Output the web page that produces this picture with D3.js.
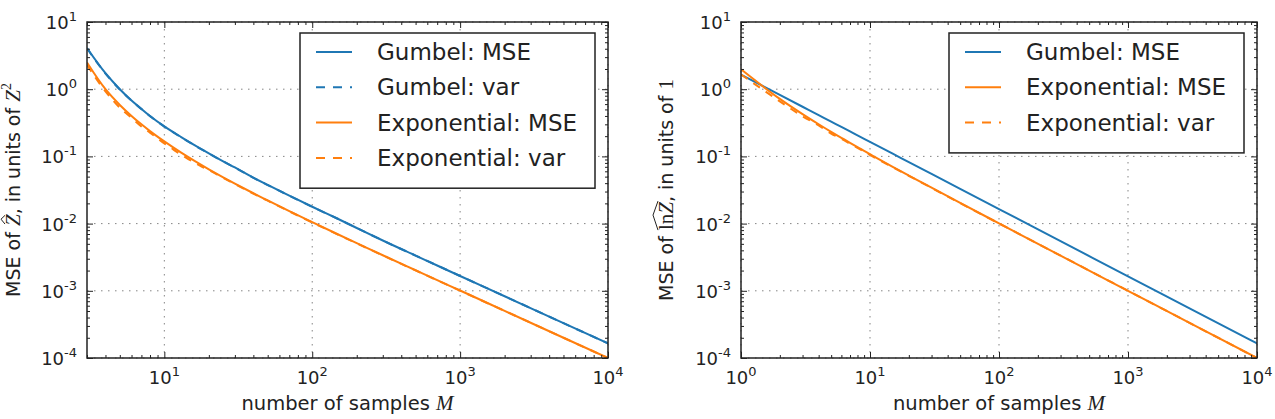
<!DOCTYPE html>
<html>
<head>
<meta charset="utf-8">
<script src="https://cdn.jsdelivr.net/npm/d3@7"></script>
<style>
  body { margin: 0; background: #fff; }
  text { font-family: "DejaVu Sans", sans-serif; fill: #222; }
</style>
</head>
<body>
<svg id="fig" width="1275" height="419"></svg>
<script>
const blue = "#1f77b4", orange = "#ff7f0e";

// left panel: MSE of Z-hat
const leftM = [3, 4, 5, 6, 7, 8, 10, 13, 16, 20, 25, 30, 40, 50, 70, 100, 150, 200, 300, 500, 700, 1000, 2000, 5000, 10000];
const leftGumbelMSE = [4.1, 1.73, 1.0, 0.68, 0.51, 0.40, 0.28, 0.194, 0.147, 0.111, 0.0845, 0.0684, 0.0482, 0.0376, 0.0261, 0.0178, 0.0117, 0.0086, 0.0056, 0.00334, 0.00238, 0.00166, 0.00083, 0.00033, 0.000165];
const leftGumbelVar = [4.05, 1.71, 0.99, 0.675, 0.505, 0.397, 0.278, 0.193, 0.146, 0.1105, 0.0842, 0.0682, 0.0481, 0.0375, 0.0260, 0.0177, 0.0117, 0.0086, 0.0056, 0.00334, 0.00238, 0.00166, 0.00083, 0.00033, 0.000165];
const leftExpMSE = [2.5, 1.0, 0.583, 0.40, 0.300, 0.238, 0.167, 0.1136, 0.0857, 0.0643, 0.0489, 0.0394, 0.0283, 0.0221, 0.0153, 0.0105, 0.00689, 0.00513, 0.00338, 0.00202, 0.00144, 0.00101, 0.000503, 0.0002, 0.0001];
const leftVarM = [3, 4, 5, 6, 7, 8, 9, 10, 11, 12, 13, 14, 16, 18, 20, 25, 30, 40, 50, 70, 100, 200, 500, 1000, 2000, 5000, 10000];
const leftExpVar = [2.3, 0.93, 0.53, 0.375, 0.278, 0.226, 0.186, 0.156, 0.136, 0.119, 0.106, 0.096, 0.081, 0.070, 0.0625, 0.0478, 0.0387, 0.0279, 0.0219, 0.0152, 0.0104, 0.00508, 0.00201, 0.001005, 0.000502, 0.0002, 0.0001];

// right panel: MSE of ln Z
const rightM = [1, 2, 3, 4, 5, 6, 7, 8, 10, 15, 20, 30, 50, 100, 300, 1000, 3000, 10000];
const rightGumbelMSE = [1.645, 0.822, 0.548, 0.411, 0.329, 0.274, 0.235, 0.206, 0.1645, 0.1097, 0.0822, 0.0548, 0.0329, 0.01645, 0.00548, 0.001645, 0.000548, 0.0001645];
const rightExpMSE = [1.98, 0.718, 0.426, 0.301, 0.232, 0.189, 0.159, 0.137, 0.1078, 0.0700, 0.0519, 0.0342, 0.0203, 0.01008, 0.00334, 0.0010005, 0.000333, 0.0001];
const rightExpVar = [1.66, 0.66, 0.395, 0.29, 0.219, 0.183, 0.155, 0.134, 0.105, 0.069, 0.0515, 0.0340, 0.0202, 0.01005, 0.00334, 0.001, 0.000333, 0.0001];

const yTicks = [1e-4, 1e-3, 1e-2, 1e-1, 1, 10];
const yExps = ["-4", "-3", "-2", "-1", "0", "1"];
const leftXTicks = [10, 100, 1000, 10000];
const leftXExps = ["1", "2", "3", "4"];
const rightXTicks = [1, 10, 100, 1000, 10000];
const rightXExps = ["0", "1", "2", "3", "4"];

const plotTop = 22, plotBottom = 358;
const h = plotBottom - plotTop;
const svg = d3.select("#fig");
svg.append("rect").attr("width", 1275).attr("height", 419).attr("fill", "#fff");

function minorValues(domain) {
  const out = [];
  const lo = Math.floor(Math.log10(domain[0])), hi = Math.ceil(Math.log10(domain[1]));
  for (let k = lo; k < hi; k++) {
    for (let m = 2; m <= 9; m++) {
      const v = m * Math.pow(10, k);
      if (v >= domain[0] - 1e-12 && v <= domain[1]) out.push(v);
    }
  }
  return out;
}

function pow10(sel, exp) {
  sel.text("10");
  sel.append("tspan").attr("dy", -8).attr("font-size", 13).text(exp);
}

function drawPanel(cfg) {
  const w = cfg.x1 - cfg.x0;
  const g = svg.append("g").attr("transform", `translate(${cfg.x0},${plotTop})`);
  const x = d3.scaleLog().domain(cfg.xDomain).range([0, w]);
  const y = d3.scaleLog().domain([1e-4, 10]).range([h, 0]);

  // dotted grid
  const grid = g.append("g").attr("stroke", "#777").attr("stroke-width", 0.9).attr("stroke-dasharray", "1.5,5.5");
  grid.selectAll(".gx").data(cfg.xTicks).join("line")
    .attr("x1", d => x(d)).attr("x2", d => x(d)).attr("y1", 0).attr("y2", h);
  grid.selectAll(".gy").data(yTicks).join("line")
    .attr("x1", 0).attr("x2", w).attr("y1", d => y(d)).attr("y2", d => y(d));

  // lines
  const clipId = "clip" + cfg.x0;
  g.append("clipPath").attr("id", clipId).append("rect").attr("width", w).attr("height", h);
  const line = d3.line().x(d => x(d[0])).y(d => y(d[1])).curve(d3.curveMonotoneX);
  const lg = g.append("g").attr("clip-path", `url(#${clipId})`);
  cfg.series.forEach(s => {
    const pts = s.m.map((m, i) => [m, s.v[i]]);
    lg.append("path")
      .attr("d", line(pts))
      .attr("fill", "none")
      .attr("stroke", s.color)
      .attr("stroke-width", 2)
      .attr("stroke-dasharray", s.dash ? "8,7" : null);
  });

  // ticks on all four sides, pointing inward
  const xMinor = minorValues(cfg.xDomain), yMinor = minorValues([1e-4, 10]);
  const axes = [
    [d3.axisBottom, `translate(0,${h})`, x, cfg.xTicks, xMinor],
    [d3.axisTop, "translate(0,0)", x, cfg.xTicks, xMinor],
    [d3.axisLeft, "translate(0,0)", y, yTicks, yMinor],
    [d3.axisRight, `translate(${w},0)`, y, yTicks, yMinor]
  ];
  axes.forEach(([ax, tr, sc, major, minor]) => {
    g.append("g").attr("transform", tr).attr("color", "#222")
      .call(ax(sc).tickValues(major).tickSize(-6).tickFormat(""))
      .call(a => a.select(".domain").remove());
    g.append("g").attr("transform", tr).attr("color", "#222")
      .call(ax(sc).tickValues(minor).tickSize(-3).tickFormat(""))
      .call(a => a.select(".domain").remove());
  });

  // frame
  g.append("rect").attr("width", w).attr("height", h)
    .attr("fill", "none").attr("stroke", "#222").attr("stroke-width", 1.5);

  // tick labels
  cfg.xTicks.forEach((t, i) => {
    g.append("text").attr("x", x(t)).attr("y", h + 26).attr("text-anchor", "middle")
      .attr("font-size", 18).call(pow10, cfg.xExps[i]);
  });
  yTicks.forEach((t, i) => {
    g.append("text").attr("x", -10).attr("y", y(t) + 7).attr("text-anchor", "end")
      .attr("font-size", 18).call(pow10, yExps[i]);
  });

  // x label
  const xl = g.append("text").attr("x", w / 2).attr("y", 410 - plotTop)
    .attr("text-anchor", "middle").attr("font-size", 19.5);
  xl.append("tspan").text("number of samples ");
  xl.append("tspan").attr("font-family", "'Liberation Serif', serif").attr("font-style", "italic")
    .attr("font-size", 21).text("M");

  // y label
  const yg = svg.append("g").attr("transform", `translate(${cfg.ylabelX},${plotTop + h / 2}) rotate(-90)`);
  const yt = yg.append("text").attr("text-anchor", "middle").attr("font-size", 19);
  cfg.ylabel.forEach(p => {
    const s = yt.append("tspan").text(p.t);
    if (p.serif) s.attr("font-family", "'Liberation Serif', serif").attr("font-size", 21);
    if (p.it) s.attr("font-style", "italic");
    if (p.sup) s.attr("font-size", 14).attr("dy", -9);
  });
  if (cfg.hat) {
    const node = yt.node();
    const x1 = node.getStartPositionOfChar(cfg.hat[0]).x;
    const x2 = node.getEndPositionOfChar(cfg.hat[1]).x;
    const xm = (x1 + x2) / 2;
    const wide = cfg.hat[1] > cfg.hat[0];
    const base = -15, peak = wide ? -20 : -19;
    const pad = wide ? 0 : 2;
    yg.append("path")
      .attr("d", `M${x1 + pad},${base} L${xm + 1},${peak} L${x2 - pad + 1},${base}`)
      .attr("fill", "none").attr("stroke", "#222").attr("stroke-width", 1);
  }

  // legend
  const lgW = 295, lgH = 14 + cfg.legend.length * 35.3;
  const leg = g.append("g").attr("transform", `translate(${w - 13 - lgW},11)`);
  leg.append("rect").attr("width", lgW).attr("height", lgH)
    .attr("fill", "#fff").attr("stroke", "#222").attr("stroke-width", 1.5);
  cfg.legend.forEach((e, i) => {
    const ry = 19 + i * 35.3;
    leg.append("line").attr("x1", 16).attr("x2", 52).attr("y1", ry).attr("y2", ry)
      .attr("stroke", e.color).attr("stroke-width", 2)
      .attr("stroke-dasharray", e.dash ? "9,8" : null);
    leg.append("text").attr("x", 77).attr("y", ry + 8).attr("font-size", 23).text(e.label);
  });
}

drawPanel({
  x0: 87, x1: 608, xDomain: [3, 10000], xTicks: leftXTicks, xExps: leftXExps, ylabelX: 20,
  series: [
    {m: leftM, v: leftGumbelMSE, color: blue},
    {m: leftM, v: leftGumbelVar, color: blue, dash: true},
    {m: leftM, v: leftExpMSE, color: orange},
    {m: leftVarM, v: leftExpVar, color: orange, dash: true}
  ],
  legend: [
    {label: "Gumbel: MSE", color: blue},
    {label: "Gumbel: var", color: blue, dash: true},
    {label: "Exponential: MSE", color: orange},
    {label: "Exponential: var", color: orange, dash: true}
  ],
  ylabel: [
    {t: "MSE of "}, {t: "Z", serif: true, it: true}, {t: ", in units of "},
    {t: "Z", serif: true, it: true}, {t: "2", serif: true, sup: true}
  ],
  hat: [7, 7]
});

drawPanel({
  x0: 741, x1: 1257, xDomain: [1, 10000], xTicks: rightXTicks, xExps: rightXExps, ylabelX: 673,
  series: [
    {m: rightM, v: rightGumbelMSE, color: blue},
    {m: rightM, v: rightExpMSE, color: orange},
    {m: rightM, v: rightExpVar, color: orange, dash: true}
  ],
  legend: [
    {label: "Gumbel: MSE", color: blue},
    {label: "Exponential: MSE", color: orange},
    {label: "Exponential: var", color: orange, dash: true}
  ],
  ylabel: [
    {t: "MSE of "}, {t: "ln", serif: true}, {t: "Z", serif: true, it: true},
    {t: ", in units of "}, {t: "1", serif: true}
  ],
  hat: [7, 9]
});
</script>
</body>
</html>
